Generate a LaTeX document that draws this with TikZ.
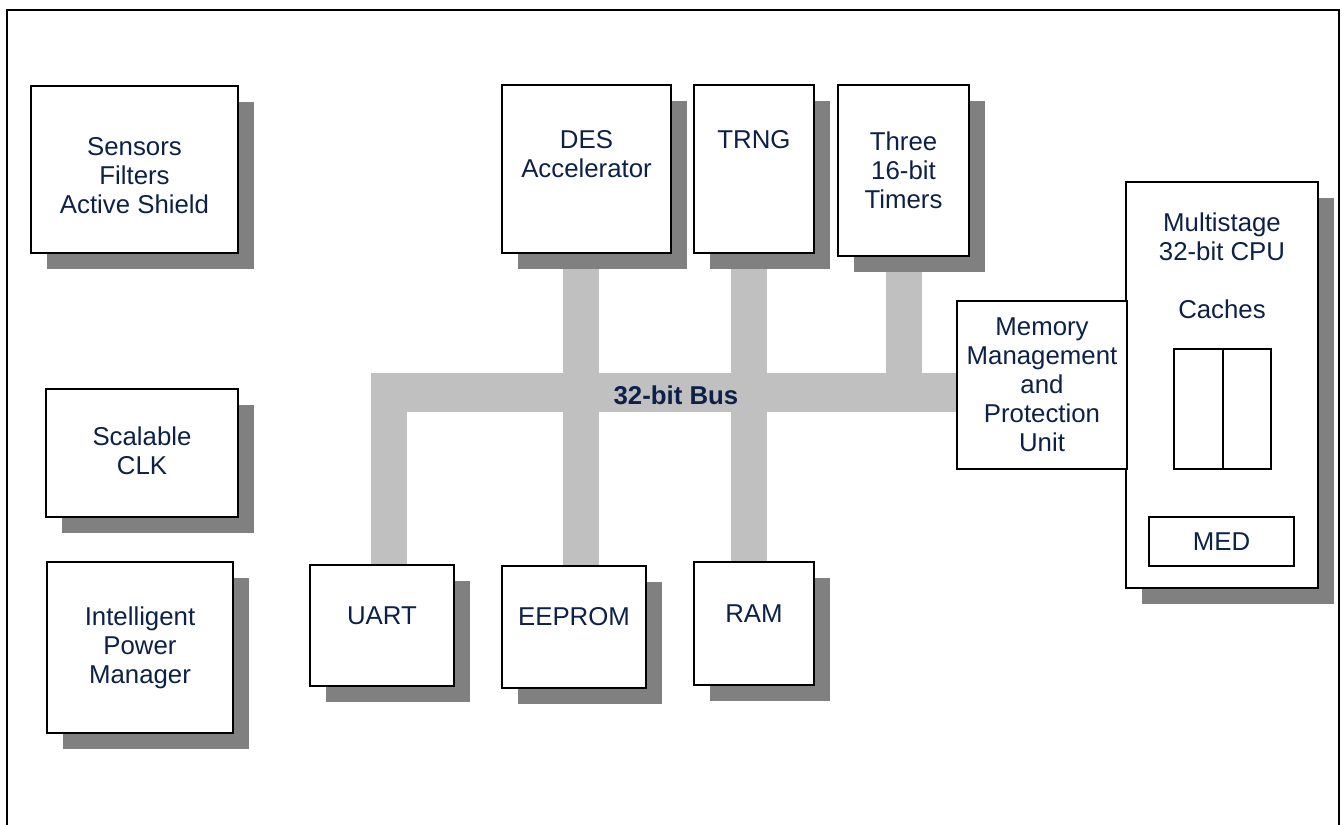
\documentclass[tikz,border=0pt]{standalone}
\usepackage{fontspec}
\setmainfont{Liberation Sans}
\usetikzlibrary{shadows,backgrounds}
\definecolor{navytext}{RGB}{13,33,72}
\definecolor{shadegray}{RGB}{128,128,128}
\definecolor{busgray}{RGB}{192,192,192}

\begin{document}
\begin{tikzpicture}[x=1pt,y=-1pt,
  every node/.style={font=\fontsize{25.8}{29}\selectfont, text=navytext},
  every label/.style={align=center, inner sep=0pt, anchor=north},
  blk/.style={draw, line width=2pt, fill=white, inner sep=0pt, align=center},
  shadowed/.style={blk, drop shadow={shadow xshift=16pt, shadow yshift=-16pt, fill=shadegray, opacity=1}},
  bus/.style={busgray, line width=36pt}]
  \useasboundingbox (0,0) rectangle (1342,825);

  % frame
  \draw [line width=2.8pt] (7,825) -- (7,10) -- (1339,10) -- (1339,825);

  % left column
  \node [shadowed, minimum width=207pt, minimum height=167pt,
    label={[yshift=-52pt]north:Sensors\\Filters\\Active Shield}] (sens) at (134.5,169.5) {};
  \node [shadowed, minimum width=192pt, minimum height=128pt,
    label={[yshift=-39pt]north:Scalable\\CLK}] (clk) at (142,453) {};
  \node [shadowed, minimum width=186pt, minimum height=171pt,
    label={[yshift=-46pt]north:Intelligent\\Power\\Manager}] (pwr) at (140,647.5) {};

  % top row
  \node [shadowed, minimum width=169pt, minimum height=168pt,
    label={[yshift=-46pt]north:DES\\Accelerator}] (des) at (586.5,169) {};
  \node [shadowed, minimum width=120pt, minimum height=168pt,
    label={[yshift=-46pt]north:TRNG}] (trng) at (754,169) {};
  \node [shadowed, minimum width=131pt, minimum height=171pt,
    label={[yshift=-48pt]north:Three\\16-bit\\Timers}] (tmr) at (903.5,170.5) {};

  % bottom row
  \node [shadowed, minimum width=144pt, minimum height=121pt,
    label={[yshift=-43pt]north:UART}] (uart) at (382,625.5) {};
  \node [shadowed, minimum width=144pt, minimum height=122pt,
    label={[yshift=-42pt]north:EEPROM}] (eep) at (574,627) {};
  \node [shadowed, minimum width=120pt, minimum height=123pt,
    label={[yshift=-44pt]north:RAM}] (ram) at (754,623.5) {};

  % cpu side
  \node [shadowed, minimum width=192pt, minimum height=406pt,
    label={[yshift=-32pt]north:{Multistage\\32-bit CPU\\[29pt]Caches}}] (cpu) at (1222,385) {};
  \node [blk, minimum width=170pt, minimum height=168pt] (mmu) at (1042,385)
    {Memory\\Management\\and\\Protection\\Unit};
  \node [blk, fill=none, minimum width=48.5pt, minimum height=120pt] (cacheL) at (1198.25,409) {};
  \node [blk, fill=none, minimum width=48.5pt, minimum height=120pt] (cacheR) at (1246.75,409) {};
  \node [blk, minimum width=145pt, minimum height=49pt] (med) at (1221.5,541.5) {MED};

  % bus
  \begin{scope}[on background layer]
    \draw [bus, line width=39pt] (371,392.5) -- (mmu.west |- 0,392.5);
    \draw [bus] (389,392.5) -- (389,0 |- uart.north);
    \draw [bus] (581,392.5) -- (581,0 |- eep.north);
    \draw [bus] (749,392.5) -- (749,0 |- ram.north);
    \draw [bus] (581,0 |- des.south) -- (581,392.5);
    \draw [bus] (749,0 |- trng.south) -- (749,392.5);
    \draw [bus] (904,0 |- tmr.south) -- (904,392.5);
  \end{scope}
  \node [font=\fontsize{25.8}{29}\selectfont\bfseries, inner sep=0pt] (buslbl) at (676,395) {32-bit Bus};
\end{tikzpicture}
\end{document}
